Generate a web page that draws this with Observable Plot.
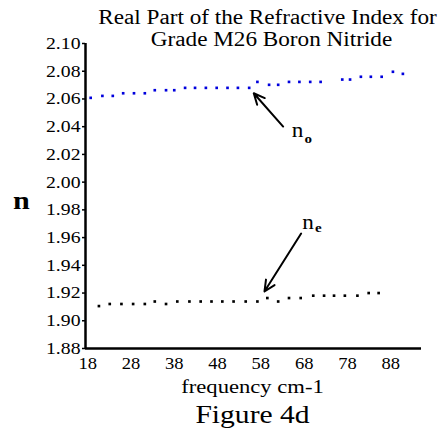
<!DOCTYPE html>
<html>
<head>
<meta charset="utf-8">
<script src="https://cdn.jsdelivr.net/npm/d3@7"></script>
<script src="https://cdn.jsdelivr.net/npm/@observablehq/plot@0.6"></script>
<style>
  html, body { margin: 0; padding: 0; background: white; }
</style>
</head>
<body>
<div id="chart"></div>
<script>
// Ordinary ray (n_o), blue
const noFreq = [18.7,21.4,23.8,26.2,28.7,31.2,33.5,36.1,38.0,40.5,42.8,45.3,47.8,50.3,52.7,55.3,57.2,59.9,62.0,64.5,66.9,69.4,71.8,76.8,78.6,81.1,83.4,85.9,88.5,90.8];
const noValues = [2.0608,2.0622,2.0622,2.0641,2.0641,2.0641,2.0663,2.0663,2.0663,2.0680,2.0680,2.0680,2.0680,2.0680,2.0680,2.0680,2.0723,2.0702,2.0702,2.0723,2.0723,2.0723,2.0723,2.0740,2.0740,2.0760,2.0760,2.0760,2.0796,2.0781];
// Extraordinary ray (n_e), black
const neFreq = [20.6,23.1,25.8,28.5,31.2,33.5,36.1,38.7,41.5,44.1,46.6,49.1,51.7,54.5,57.2,59.5,62.0,64.5,67.2,70.1,72.6,74.9,77.4,80.3,82.9,85.2];
const neValues = [1.9106,1.9121,1.9121,1.9121,1.9121,1.9139,1.9121,1.9139,1.9139,1.9139,1.9139,1.9139,1.9139,1.9139,1.9139,1.9164,1.9139,1.9164,1.9164,1.9181,1.9181,1.9181,1.9181,1.9181,1.9200,1.9200];

const xTicks = [18,28,38,48,58,68,78,88];
const yTicks = [1.88,1.90,1.92,1.94,1.96,1.98,2.00,2.02,2.04,2.06,2.08,2.10];

const titleLines = ["Real Part of the Refractive Index for", "Grade M26 Boron Nitride"];
const xLabel = "frequency cm-1";
const yLabel = "n";
const caption = "Figure 4d";

// annotation arrows: tail (x1,y1) -> tip (x2,y2)
const arrows = [
  {name: "o", x1: 63.15, y1: 2.0401, x2: 56.36, y2: 2.0641},
  {name: "e", x1: 67.3, y1: 1.9629, x2: 58.83, y2: 1.9211}
];
const annLabels = [
  {base: "n", sub: "o", x: 66.45, y: 2.0322, subY: 2.0279},
  {base: "n", sub: "e", x: 68.9, y: 1.9664, subY: 1.9642}
];

const noData = noFreq.map((f, i) => ({f, n: noValues[i]}));
const neData = neFreq.map((f, i) => ({f, n: neValues[i]}));

const serif = "'Liberation Serif', 'DejaVu Serif', serif";
const stretch = 1.16; // the reference's serif face is wider than Liberation Serif
const fmtY = d3.format(".2f");

const yTickMark = Plot.axisTickY
  ? Plot.axisTickY({ticks: yTicks, tickSize: 3, strokeWidth: 1.5})
  : Plot.axisY({ticks: yTicks, tickSize: 3, tickFormat: () => "", label: null, strokeWidth: 1.5});

const chart = Plot.plot({
  width: 442,
  height: 432,
  marginLeft: 85,
  marginRight: 21,
  marginTop: 43,
  marginBottom: 84,
  style: {fontFamily: serif, background: "white", color: "black"},
  x: {domain: [17.5, 95.1], label: null, axis: null},
  y: {domain: [1.88, 2.10], label: null, axis: null},
  marks: [
    yTickMark,
    Plot.text(yTicks, {y: d => d, text: d => fmtY(d), frameAnchor: "left", textAnchor: "end", dx: -5, fontSize: 17, fill: "black"}),
    Plot.text(xTicks, {x: d => d, text: d => String(d), frameAnchor: "bottom", lineAnchor: "top", dy: 9, fontSize: 16, fill: "black"}),
    Plot.ruleX([17.5], {y1: 1.88, y2: 2.10, stroke: "black", strokeWidth: 2.5}),
    Plot.ruleY([1.88], {x1: 17.5, x2: 95.1, stroke: "black", strokeWidth: 2.5}),
    Plot.dot(noData, {x: "f", y: "n", symbol: "square", r: 1.5, fill: "#0000dd", stroke: null}),
    Plot.dot(neData, {x: "f", y: "n", symbol: "square", r: 1.5, fill: "black", stroke: null}),
    Plot.arrow(arrows, {x1: "x1", y1: "y1", x2: "x2", y2: "y2", stroke: "black", strokeWidth: 2, headLength: 9, headAngle: 50}),
    Plot.text(annLabels, {x: "x", y: "y", text: "base", fontSize: 20, textAnchor: "middle", lineAnchor: "bottom", fill: "black"}),
    Plot.text(annLabels, {x: "x", y: "subY", text: "sub", fontSize: 13, fontWeight: "bold", textAnchor: "start", lineAnchor: "bottom", dx: 7, fill: "black"}),
    Plot.text([titleLines[0]], {text: d => d, frameAnchor: "top", lineAnchor: "bottom", dx: 14, dy: -19.5, fontSize: 20, fill: "black"}),
    Plot.text([titleLines[1]], {text: d => d, frameAnchor: "top", lineAnchor: "bottom", dx: 18, dy: 2.5, fontSize: 20, fill: "black"}),
    Plot.text([yLabel], {text: d => d, frameAnchor: "left", lineAnchor: "bottom", textAnchor: "middle", dx: -64, dy: 12.5, fontSize: 26, fontWeight: "bold", fill: "black"}),
    Plot.text([xLabel], {text: d => d, frameAnchor: "bottom", lineAnchor: "bottom", dx: -1, dy: 44, fontSize: 19.5, fill: "black"}),
    Plot.text([caption], {text: d => d, frameAnchor: "bottom", lineAnchor: "bottom", dx: -1, dy: 74, fontSize: 25.5, fill: "black"})
  ]
});

// widen the text marks horizontally around each text's own anchor point
// (y offsets such as "0.71em" stay untouched; only a horizontal scale is appended)
chart.querySelectorAll('g[aria-label="text"] text').forEach(el => {
  const t = el.getAttribute("transform") || "";
  el.setAttribute("transform", `${t} scale(${stretch},1)`);
});

document.getElementById("chart").appendChild(chart);
</script>
</body>
</html>
